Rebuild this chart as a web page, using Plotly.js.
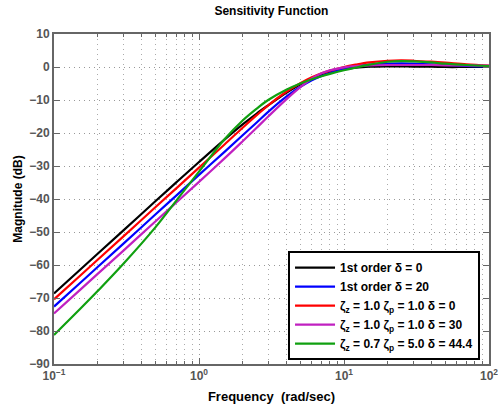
<!DOCTYPE html>
<html>
<head>
<meta charset="utf-8">
<script src="https://cdn.plot.ly/plotly-3.0.1.min.js"></script>
<style>html,body{margin:0;padding:0;background:#fff}#plot{width:498px;height:412px}</style>
</head>
<body>
<div id="plot"></div>
<script>
var freq = [0.1, 0.15, 0.2, 0.3, 0.5, 0.7, 1, 1.5, 2, 2.5, 3, 4, 5, 6, 7, 8, 10, 12, 15, 20, 25, 30, 40, 50, 70, 100];
var black1 = [-68.6,-61.6,-56.6,-49.6,-40.7,-34.9,-28.8,-22.0,-17.4,-14.1,-11.6,-7.8,-5.2,-3.6,-2.5,-1.7,-0.7,-0.2,0.1,0.2,0.2,0.1,0.1,0.0,0.0,0.0];
var blue1 = [-72.6,-65.6,-60.6,-53.6,-44.7,-38.9,-32.7,-25.7,-20.7,-16.8,-13.6,-9.0,-6.0,-4.0,-2.7,-1.8,-0.5,0.2,0.7,1.0,1.1,1.0,0.8,0.6,0.3,0.1];
var red1 = [-70.4,-63.4,-58.4,-51.4,-42.5,-36.7,-30.5,-23.5,-18.4,-14.6,-11.6,-7.5,-4.9,-3.1,-1.9,-1.1,0.0,0.7,1.4,1.9,2.0,1.9,1.6,1.3,0.8,0.4];
var magenta1 = [-74.7,-67.7,-62.7,-55.7,-46.8,-41.0,-34.8,-27.7,-22.5,-18.4,-15.0,-9.8,-6.1,-3.5,-1.9,-1.0,-0.1,0.3,0.5,0.6,0.6,0.6,0.6,0.5,0.5,0.4];
var green1 = [-81.2,-73.5,-67.9,-59.7,-48.6,-40.4,-31.7,-21.9,-16.2,-12.6,-10.0,-6.9,-5.0,-3.7,-2.8,-2.1,-1.0,-0.2,0.7,1.6,1.8,1.7,1.4,1.0,0.6,0.3];

var seriesNames = [
  "1st order \u03b4 = 0",
  "1st order \u03b4 = 20",
  "\u03b6<sub>z</sub> = 1.0 \u03b6<sub>p</sub> = 1.0 \u03b4 = 0",
  "\u03b6<sub>z</sub> = 1.0 \u03b6<sub>p</sub> = 1.0 \u03b4 = 30",
  "\u03b6<sub>z</sub> = 0.7 \u03b6<sub>p</sub> = 5.0 \u03b4 = 44.4"
];
var seriesValues = [black1, blue1, red1, magenta1, green1];
var seriesColors = ["#000000", "#0000ff", "#ff0000", "#c020c0", "#10a010"];

var xTickVals = [0.1, 1, 10, 100];
var xTickText = ["10<sup>\u22121</sup>", "10<sup>0</sup>", "10<sup>1</sup>", "10<sup>2</sup>"];
var yTickVals = [-90, -80, -70, -60, -50, -40, -30, -20, -10, 0, 10];

var minorVals = [];
[0.1, 1, 10].forEach(function (d) { for (var k = 2; k <= 9; k++) minorVals.push(d * k); });

var traces = seriesValues.map(function (v, i) {
  return {
    x: freq, y: v, type: "scatter", mode: "lines", name: seriesNames[i],
    line: {color: seriesColors[i], width: 2.2, shape: "spline", smoothing: 1}
  };
});

var fontFam = "Liberation Sans, Arial, Helvetica, sans-serif";
var layout = {
  width: 498, height: 412,
  margin: {l: 54, r: 9, t: 34, b: 48},
  paper_bgcolor: "#fff", plot_bgcolor: "#fff",
  font: {family: fontFam, size: 12, color: "#000", weight: "bold"},
  title: {text: "Sensitivity Function", font: {family: fontFam, size: 12, color: "#000", weight: "bold"}, x: 0.545, xanchor: "center", y: 0.985, yanchor: "top"},
  showlegend: true,
  legend: {
    x: 0.538, y: 0.342, xanchor: "left", yanchor: "top",
    bgcolor: "#fff", bordercolor: "#000", borderwidth: 2,
    font: {family: fontFam, size: 12, color: "#000", weight: "bold"},
    tracegroupgap: 0, itemwidth: 40
  },
  xaxis: {
    type: "log", range: [-1, 2],
    tickvals: xTickVals, ticktext: xTickText, ticklabeloverflow: "allow",
    ticks: "inside", ticklen: 6, tickwidth: 1, tickcolor: "#666",
    showline: true, linecolor: "#666", linewidth: 2, mirror: "ticks",
    showgrid: true, gridcolor: "#999", griddash: "1px,4px", gridwidth: 1,
    zeroline: false,
    tickfont: {family: fontFam, size: 12, color: "#555", weight: "bold"},
    minor: {tickvals: minorVals, ticks: "inside", ticklen: 3, tickcolor: "#666", showgrid: true, gridcolor: "#aaa", griddash: "1px,4px", gridwidth: 1},
    title: {text: "Frequency\u00a0 (rad/sec)", font: {family: fontFam, size: 13, color: "#000", weight: "bold"}, standoff: 9}
  },
  yaxis: {
    range: [-90, 10],
    tickvals: yTickVals,
    ticks: "inside", ticklen: 6, tickwidth: 1, tickcolor: "#666",
    showline: true, linecolor: "#666", linewidth: 2, mirror: "ticks",
    showgrid: true, gridcolor: "#999", griddash: "1px,4px", gridwidth: 1,
    zeroline: false,
    tickfont: {family: fontFam, size: 12, color: "#555", weight: "bold"},
    title: {text: "Magnitude (dB)", font: {family: fontFam, size: 12, color: "#000", weight: "bold"}, standoff: 4}
  }
};

Plotly.newPlot("plot", traces, layout, {staticPlot: true, displayModeBar: false});
</script>
</body>
</html>
